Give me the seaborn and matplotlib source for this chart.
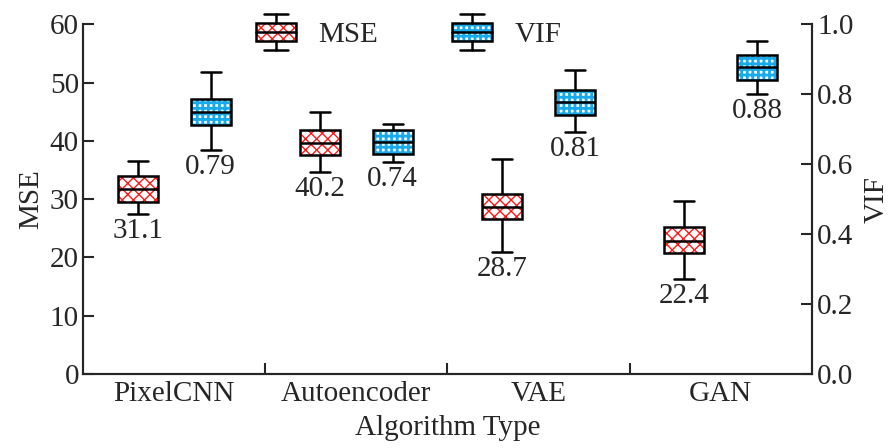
import numpy as np
import pandas as pd
import matplotlib
matplotlib.use('Agg')
import matplotlib.pyplot as plt
import seaborn as sns
from matplotlib.patches import Rectangle, PathPatch
from matplotlib.lines import Line2D
from matplotlib.legend_handler import HandlerBase

# dados: minimo, Q1, mediana, Q3, maximo de cada caixa
algoritmos = ['PixelCNN', 'Autoencoder', 'VAE', 'GAN']
metricas = ['MSE', 'VIF']
mse_caixas = [
    [27.4, 29.5, 31.8, 33.9, 36.5],
    [34.6, 37.5, 39.7, 41.9, 45.0],
    [21.0, 26.6, 28.7, 30.9, 36.9],
    [16.3, 20.7, 22.9, 25.2, 29.7],
]
vif_caixas = [
    [0.640, 0.713, 0.749, 0.785, 0.862],
    [0.607, 0.628, 0.664, 0.699, 0.716],
    [0.692, 0.740, 0.777, 0.811, 0.869],
    [0.800, 0.840, 0.877, 0.911, 0.951],
]
mse_rotulos = ['31.1', '40.2', '28.7', '22.4']
vif_rotulos = ['0.79', '0.74', '0.81', '0.88']

linhas = []
for alg, caixa in zip(algoritmos, mse_caixas):
    for v in caixa:
        linhas.append((alg, 'MSE', v))
for alg, caixa in zip(algoritmos, vif_caixas):
    for v in caixa:
        linhas.append((alg, 'VIF', v))
df = pd.DataFrame(linhas, columns=['alg', 'metrica', 'valor'])

sns.set_style('ticks')
plt.rcParams['font.family'] = ['Liberation Serif', 'DejaVu Serif']
plt.rcParams['hatch.linewidth'] = 1.0

FS = 21
LW = 1.8
AZUL = '#18aaea'
VERMELHO = '#ff1a1a'

fig = plt.figure(figsize=(8.93, 4.48), dpi=100)
ax = fig.add_axes([0.093, 0.165, 0.816, 0.781])
ax2 = ax.twinx()

kw = dict(x='alg', y='valor', hue='metrica', hue_order=metricas, order=algoritmos,
          whis=(0, 100), width=0.8, gap=0.45, dodge=True, linewidth=LW, linecolor='black',
          palette={'MSE': 'white', 'VIF': 'white'}, legend=False)
sns.boxplot(data=df[df.metrica == 'MSE'], ax=ax, **kw)
sns.boxplot(data=df[df.metrica == 'VIF'], ax=ax2, **kw)


def hachurar(eixo, hatch, cor, lw_hatch):
    for p in list(eixo.patches):
        contorno = PathPatch(p.get_path(), transform=p.get_transform(), facecolor='none',
                             edgecolor='black', lw=LW, zorder=p.get_zorder() + 0.1)
        p.set_hatch(hatch)
        p.set_edgecolor(cor)
        p.set_linewidth(0)
        if hasattr(p, 'set_hatch_linewidth'):
            p.set_hatch_linewidth(lw_hatch)
        eixo.add_patch(contorno)


hachurar(ax, 'xxx', VERMELHO, 1.0)
hachurar(ax2, '+++', AZUL, 2.0)

# rotulos abaixo de cada caixa
for i, (caixa, txt) in enumerate(zip(mse_caixas, mse_rotulos)):
    ax.annotate(txt, (i - 0.2, caixa[0]), xytext=(0, -3), textcoords='offset points',
                ha='center', va='top', fontsize=FS)
for i, (caixa, txt) in enumerate(zip(vif_caixas, vif_rotulos)):
    ax2.annotate(txt, (i + 0.2, caixa[0]), xytext=(0, -3), textcoords='offset points',
                 ha='center', va='top', fontsize=FS)

ax.set_ylim(0, 60)
ax2.set_ylim(0, 1.0)
ax.set_xlim(-0.5, 3.5)
ax.set_yticks(range(0, 61, 10))
ax2.set_yticks(np.arange(0, 1.01, 0.2))
ax2.set_yticklabels([f'{v:.1f}' for v in np.arange(0, 1.01, 0.2)])
ax.set_xticks(range(len(algoritmos)))
ax.set_xticklabels(algoritmos)
ax.set_xticks([0.5, 1.5, 2.5], minor=True)

ax.tick_params(axis='x', which='major', length=0, pad=5, labelsize=FS)
ax.tick_params(axis='x', which='minor', direction='in', length=8, width=1.5)
ax.tick_params(axis='y', direction='in', length=8, width=1.5, labelsize=FS, pad=3)
ax2.tick_params(axis='y', direction='in', length=8, width=1.5, labelsize=FS, pad=4)

for eixo in (ax, ax2):
    eixo.spines['top'].set_visible(False)
    for s in ('left', 'right', 'bottom'):
        eixo.spines[s].set_linewidth(1.5)

ax.set_xlabel('Algorithm Type', fontsize=FS, labelpad=6)
ax.set_ylabel('MSE', fontsize=FS, labelpad=4)
ax2.set_ylabel('VIF', fontsize=FS, labelpad=7)


class Caixa:
    def __init__(self, hatch, cor, lw_hatch):
        self.hatch, self.cor, self.lw_hatch = hatch, cor, lw_hatch


class CaixaHandler(HandlerBase):
    def create_artists(self, legend, orig, xd, yd, w, h, fontsize, trans):
        x0, y0 = -xd, -yd
        fundo = Rectangle((x0, y0 + 0.25 * h), w, 0.5 * h, facecolor='white',
                          edgecolor=orig.cor, lw=0, hatch=orig.hatch)
        if hasattr(fundo, 'set_hatch_linewidth'):
            fundo.set_hatch_linewidth(orig.lw_hatch)
        borda = Rectangle((x0, y0 + 0.25 * h), w, 0.5 * h, facecolor='none',
                          edgecolor='black', lw=LW)
        xm = x0 + w / 2
        arts = [fundo, borda,
                Line2D([x0, x0 + w], [y0 + 0.5 * h] * 2, color='black', lw=LW),
                Line2D([xm, xm], [y0 + 0.75 * h, y0 + h], color='black', lw=LW),
                Line2D([xm, xm], [y0, y0 + 0.25 * h], color='black', lw=LW),
                Line2D([x0 + 0.2 * w, x0 + 0.8 * w], [y0 + h] * 2, color='black', lw=LW),
                Line2D([x0 + 0.2 * w, x0 + 0.8 * w], [y0] * 2, color='black', lw=LW)]
        for a in arts:
            a.set_transform(trans)
        return arts


alcas = [Caixa('xxx', VERMELHO, 1.0), Caixa('+++', AZUL, 2.0)]
ax2.legend(alcas, metricas, handler_map={Caixa: CaixaHandler()}, ncol=2, frameon=False,
           loc='center', bbox_to_anchor=(0.447, 0.977), fontsize=FS,
           handlelength=1.37, handleheight=1.54, handletextpad=0.76, columnspacing=2.55)

fig.savefig('out.png', dpi=100)
